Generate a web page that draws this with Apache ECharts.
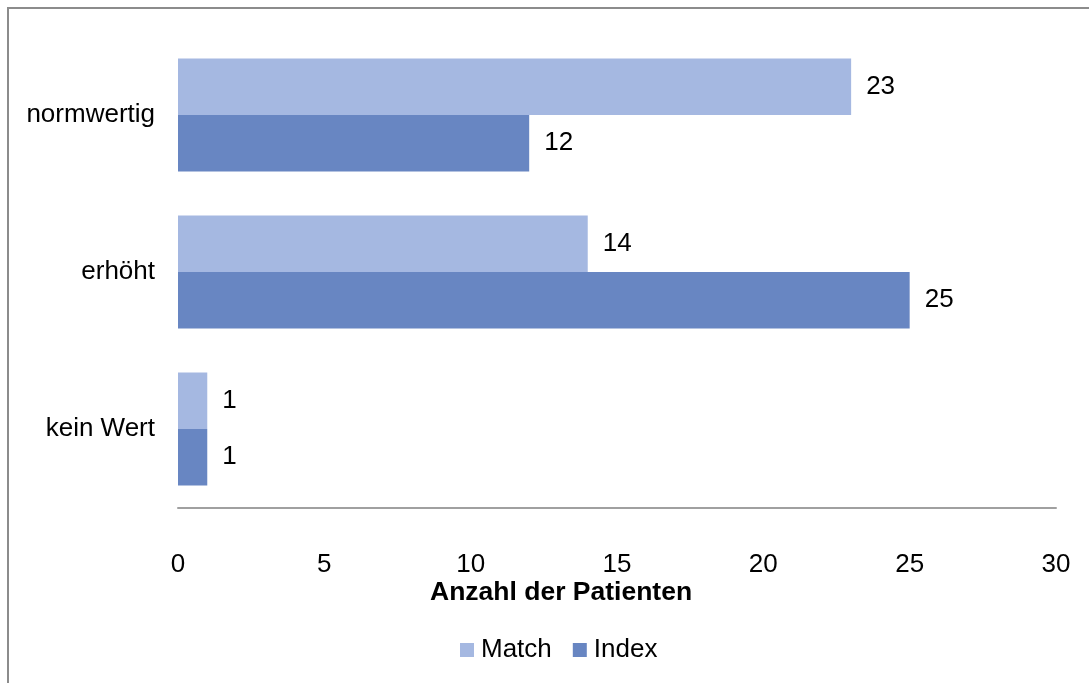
<!DOCTYPE html>
<html>
<head>
<meta charset="utf-8">
<script src="https://cdn.jsdelivr.net/npm/echarts@6/dist/echarts.min.js"></script>
<style>
html,body{margin:0;padding:0;background:#fff;}
#frame{position:absolute;left:7px;top:7px;width:1100px;height:700px;border:2px solid #8c8c8c;box-sizing:border-box;}
#chart{position:absolute;left:0;top:0;width:1089px;height:683px;}
</style>
</head>
<body>
<div id="frame"></div>
<div id="chart"></div>
<script>
const categories = ['kein Wert', 'erhöht', 'normwertig'];
const matchValues = [1, 14, 23];
const indexValues = [1, 25, 12];
const xTicks = [0, 5, 10, 15, 20, 25, 30];
const axisTitle = 'Anzahl der Patienten';

const FONT = '"Liberation Sans", Arial, sans-serif';
const FS = 26;
const chart = echarts.init(document.getElementById('chart'), null, {renderer: 'canvas'});
const labelCfg = {show: true, position: 'right', distance: 15, color: '#000', fontSize: FS, fontFamily: FONT};
chart.setOption({
  animation: false,
  backgroundColor: 'transparent',
  title: {
    text: axisTitle, left: 430, top: 579, padding: 0,
    textStyle: {fontSize: 26.5, fontWeight: 'bold', fontFamily: FONT, color: '#000'}
  },
  grid: {left: 178, right: 33, top: 36.5, bottom: 175.5, containLabel: false},
  legend: {
    data: ['Match', 'Index'],
    top: 632, left: 455,
    itemWidth: 14, itemHeight: 14, itemGap: 21,
    icon: 'rect',
    textStyle: {fontSize: FS, fontFamily: FONT, color: '#000', padding: [0,0,0,2]}
  },
  xAxis: {
    type: 'value', min: xTicks[0], max: xTicks[xTicks.length-1], interval: 5,
    axisLine: {show: true, lineStyle: {color: '#a0a0a0', width: 2}},
    axisTick: {show: false},
    splitLine: {show: false},
    axisLabel: {fontSize: FS, fontFamily: FONT, color: '#000', margin: 44}
  },
  yAxis: {
    type: 'category', data: categories,
    axisLine: {show: false}, axisTick: {show: false},
    axisLabel: {fontSize: FS, fontFamily: FONT, color: '#000', margin: 23, padding: [6,0,0,0]}
  },
  series: [
    {name: 'Match', type: 'bar', data: matchValues, barGap: '0%', barCategoryGap: '28%',
     itemStyle: {color: '#A5B8E1'}, label: labelCfg},
    {name: 'Index', type: 'bar', data: indexValues, barGap: '0%', barCategoryGap: '28%',
     itemStyle: {color: '#6886C2'}, label: labelCfg}
  ]
});
</script>
</body>
</html>
